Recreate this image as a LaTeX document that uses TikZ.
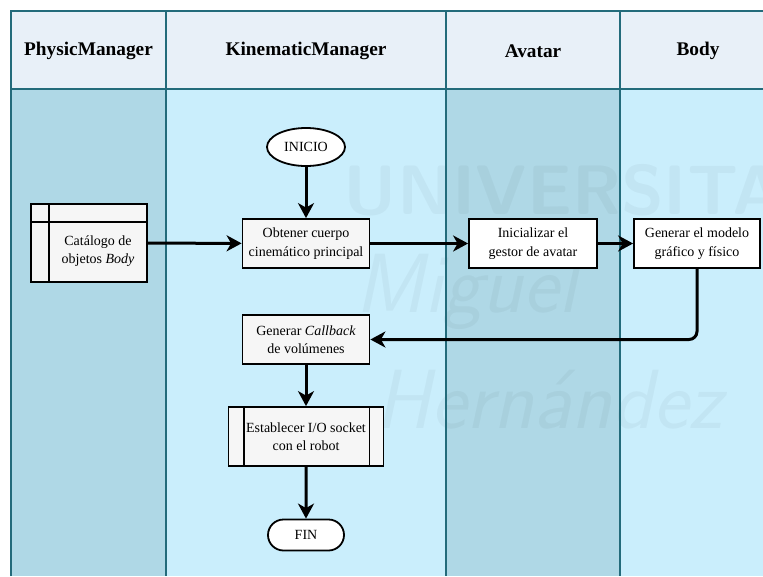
\documentclass[tikz,border=0pt]{standalone}
\usepackage{fontspec}
\setmainfont{Liberation Serif}
\usetikzlibrary{arrows.meta,shapes.geometric,shapes.misc,calc}
\definecolor{hdr}{HTML}{E8F0F8}
\definecolor{lanelight}{HTML}{CAEEFC}
\definecolor{lanedark}{HTML}{AFD8E6}
\definecolor{frame}{HTML}{236B7B}
\definecolor{boxfill}{HTML}{F6F6F6}
\begin{document}
\begin{tikzpicture}[x=1pt,y=-1pt,
  txt/.style={font=\fontsize{14}{18.5}\selectfont, align=center},
  proc/.style={txt, draw=black, line width=1.8pt, fill=boxfill, minimum height=49pt, inner sep=1pt},
  term/.style={txt, draw=black, line width=1.8pt, fill=white, inner sep=1pt},
  arr/.style={line width=3pt, -{Stealth[length=15pt,width=16pt,inset=4.5pt]}},
  lanehead/.style={font=\fontsize{19.3}{22}\selectfont\bfseries},
  wm/.style={opacity=0.035, text=black}
]
\useasboundingbox (0,0) rectangle (763,576);
\fill[white] (0,0) rectangle (763,576);
% lanes
\fill[hdr] (11,11) rectangle (763,89);
\fill[lanedark] (11,89) rectangle (166,576);
\fill[lanelight] (166,89) rectangle (446,576);
\fill[lanedark] (446,89) rectangle (620,576);
\fill[lanelight] (620,89) rectangle (763,576);
% watermark
\node[wm, font=\fontsize{70}{70}\selectfont\sffamily\bfseries, anchor=west] (wm1) at (340,190) {UNIVERSITAS};
\node[wm, font=\fontsize{84}{84}\selectfont\sffamily\itshape, anchor=west] (wm2) at (352,292) {Miguel};
\node[wm, font=\fontsize{84}{84}\selectfont\sffamily\itshape, anchor=west] (wm3) at (372,400) {Hernández};
% frame
\draw[frame, line width=1.2pt] (11,576) -- (11,11) -- (763,11);
\draw[frame, line width=1.2pt] (11,89) -- (763,89);
\foreach \xx in {166,446,620} \draw[frame, line width=1.2pt] (\xx,11) -- (\xx,576);
\node[lanehead] (h1) at (88.5,51) {PhysicManager};
\node[lanehead] (h2) at (306,51) {KinematicManager};
\node[lanehead] (h3) at (533,51) {Avatar};
\node[lanehead] (h4) at (698,51) {Body};
% nodes
\node[term, ellipse, minimum width=78pt, minimum height=38pt] (start) at (306,147) {INICIO};
\node[proc, minimum width=127pt] (obt) at (306,243.5) {Obtener cuerpo\\cinemático principal};
\node[proc, minimum width=128pt, fill=white] (ini) at (533,243.5) {Inicializar el\\gestor de avatar};
\node[proc, minimum width=126pt, fill=white] (gen) at (697,243.5) {Generar el modelo\\gráfico y físico};
\node[proc, minimum width=116pt, minimum height=78pt] (cat) at (89,243) {};
\node[txt] (catt) at (98,251) {Catálogo de\\objetos \textit{Body}};
\draw[line width=1.8pt] ($(cat.north west)+(19,0)$) -- ($(cat.south west)+(19,0)$);
\draw[line width=1.8pt] ($(cat.north west)+(0,19)$) -- ($(cat.north east)+(0,19)$);
\node[proc, minimum width=127pt] (cb) at (306,339.5) {Generar \textit{Callback}\\de volúmenes};
\node[proc, minimum width=155pt, minimum height=59pt] (est) at (306,436.5) {Establecer I/O socket\\con el robot};
\draw[line width=1.8pt] ($(est.north west)+(16,0)$) -- ($(est.south west)+(16,0)$);
\draw[line width=1.8pt] ($(est.north east)+(-15,0)$) -- ($(est.south east)+(-15,0)$);
\node[term, rounded rectangle, minimum width=78pt, minimum height=31pt] (fin) at (306,535) {FIN};
% connectors
\draw[arr] (start) -- (obt);
\draw[arr] (cat) -- (obt);
\draw[arr] (obt) -- (ini);
\draw[arr] (ini) -- (gen);
\draw[arr, rounded corners=8pt] (gen.south) |- (cb.east);
\draw[arr] (cb) -- (est);
\draw[arr] (est) -- (fin);
\end{tikzpicture}
\end{document}
